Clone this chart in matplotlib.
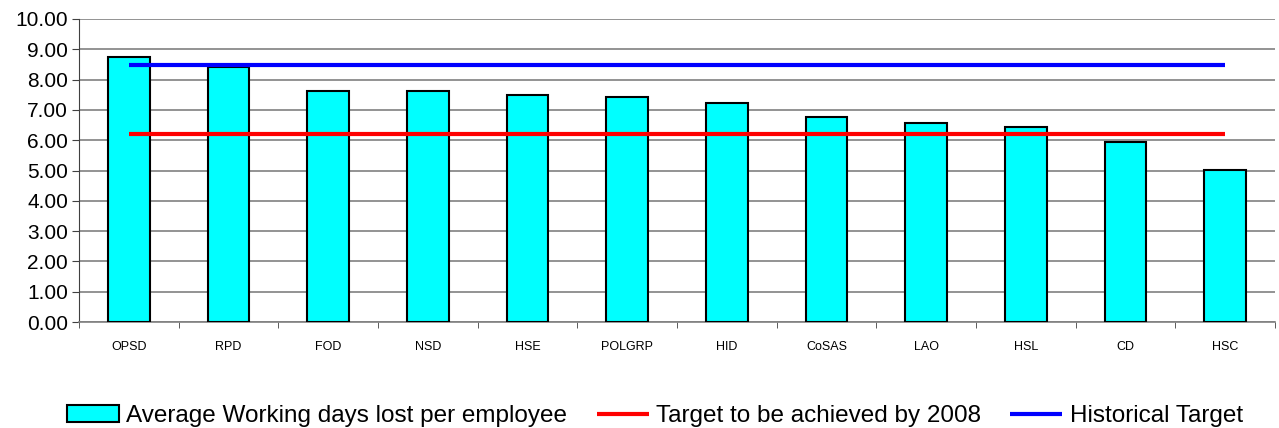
import matplotlib

matplotlib.use("Agg")
import matplotlib.pyplot as plt
import numpy as np

plt.rcParams["font.family"] = ["Liberation Sans", "DejaVu Sans"]

departments = ["OPSD", "RPD", "FOD", "NSD", "HSE", "POLGRP", "HID", "CoSAS", "LAO", "HSL", "CD", "HSC"]
days_lost = [8.75, 8.40, 7.62, 7.62, 7.49, 7.43, 7.23, 6.75, 6.56, 6.42, 5.94, 5.03]
target_2008 = [6.20] * len(departments)
historical_target = [8.48] * len(departments)

x = np.arange(len(departments))

fig = plt.figure(figsize=(12.79, 4.28), dpi=100)
ax = fig.add_axes([79 / 1279, 1 - 322 / 428, (1275 - 79) / 1279, (322 - 19) / 428])

ax.bar(x, days_lost, width=0.42, color="#00FFFF", edgecolor="black", linewidth=1.5,
       label="Average Working days lost per employee", zorder=3)
ax.plot(x, target_2008, color="#FF0000", linewidth=3, label="Target to be achieved by 2008",
        solid_capstyle="butt", zorder=4)
ax.plot(x, historical_target, color="#0000FF", linewidth=3, label="Historical Target",
        solid_capstyle="butt", zorder=4)

ax.set_xlim(-0.5, len(departments) - 0.5)
ax.set_ylim(0, 10)
ax.set_yticks(np.arange(0, 11, 1))
ax.set_yticklabels([f"{v:.2f}" for v in np.arange(0, 11, 1)], fontsize=15)
ax.yaxis.grid(True, color="#808080", linewidth=1.2, zorder=0)
ax.set_axisbelow(True)

# category labels between boundary ticks, Excel style
ax.set_xticks(x)
ax.set_xticklabels(departments, fontsize=9)
ax.tick_params(axis="x", length=0, pad=14)
ax.set_xticks(np.arange(-0.5, len(departments), 1), minor=True)
ax.tick_params(axis="x", which="minor", length=4, direction="out", color="#404040")
ax.tick_params(axis="y", length=5, direction="out", color="#404040", pad=3)

for side in ["top", "right"]:
    ax.spines[side].set_visible(False)
ax.spines["left"].set_color("#404040")
ax.spines["bottom"].set_color("#808080")
ax.spines["bottom"].set_linewidth(1.2)

handles, labels = ax.get_legend_handles_labels()
order = [2, 0, 1]
fig.legend([handles[i] for i in order], [labels[i] for i in order], loc="center",
           bbox_to_anchor=(0.512, 1 - 416 / 428), ncol=3, frameon=False, fontsize=17.5,
           handlelength=2.15, handletextpad=0.3, columnspacing=1.2)

fig.savefig("out.png", dpi=100)
